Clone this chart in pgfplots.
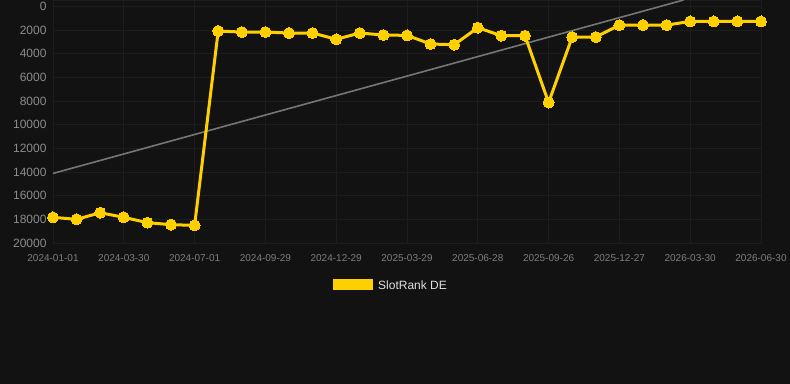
\documentclass[border=0pt]{standalone}
\usepackage{pgfplots}
\pgfplotsset{compat=1.18}
\usepackage{fontspec}
\setmainfont{Liberation Sans}
\definecolor{bg}{HTML}{121212}
\definecolor{gridc}{HTML}{1D1D1D}
\definecolor{ylw}{HTML}{FFD000}
\definecolor{trend}{HTML}{767676}
\definecolor{ticklab}{HTML}{8C8C8C}
\definecolor{xticklab}{HTML}{7E7E7E}
\begin{document}
\begin{tikzpicture}
\fill[bg] (-53bp,-141bp) rectangle (737bp,243bp);
\begin{axis}[
  scale only axis,
  width=708bp, height=243bp,
  xmin=0, xmax=30,
  ymin=-540, ymax=20000,
  y dir=reverse,
  clip=false,
  axis line style={draw=gridc},
  grid=major,
  major grid style={draw=gridc, line width=0.8bp},
  major tick length=0pt,
  scaled y ticks=false,
  xtick={0,3,...,30},
  xticklabels={2024-01-01,2024-03-30,2024-07-01,2024-09-29,2024-12-29,2025-03-29,2025-06-28,2025-09-26,2025-12-27,2026-03-30,2026-06-30},
  ytick={0,2000,...,20000},
  yticklabel={\pgfmathprintnumber[assume math mode=true,1000 sep={},fixed,precision=0]{\tick}},
  yticklabel style={font=\fontsize{12bp}{14bp}\selectfont, text=ticklab, xshift=-3bp},
  xticklabel style={font=\fontsize{10bp}{12bp}\selectfont, text=xticklab, yshift=-8bp},
]
\addplot[trend, line width=1.6bp] coordinates {(0,14120) (26.72,-540)};
\addplot[ylw, line width=3bp, mark=*, mark size=5.5bp, mark options={fill=ylw, draw=ylw, line width=0pt}] coordinates {
(0,17830) (1,18000) (2,17440) (3,17830) (4,18280) (5,18450) (6,18510)
(7,2080) (8,2170) (9,2170) (10,2250) (11,2250) (12,2780) (13,2250)
(14,2420) (15,2450) (16,3180) (17,3240) (18,1800) (19,2480) (20,2480)
(21,8130) (22,2590) (23,2590) (24,1580) (25,1580) (26,1580) (27,1270)
(28,1270) (29,1270) (30,1270)};
\end{axis}
\fill[ylw] (280bp,-47bp) rectangle (320bp,-36bp);
\node[anchor=west, inner sep=0pt, text=white!88!black, font=\fontsize{12bp}{14bp}\selectfont] at (325bp,-42bp) {SlotRank DE};
\pgfresetboundingbox
\path[use as bounding box] (-53bp,-141bp) rectangle (737bp,243bp);
\end{tikzpicture}
\end{document}
